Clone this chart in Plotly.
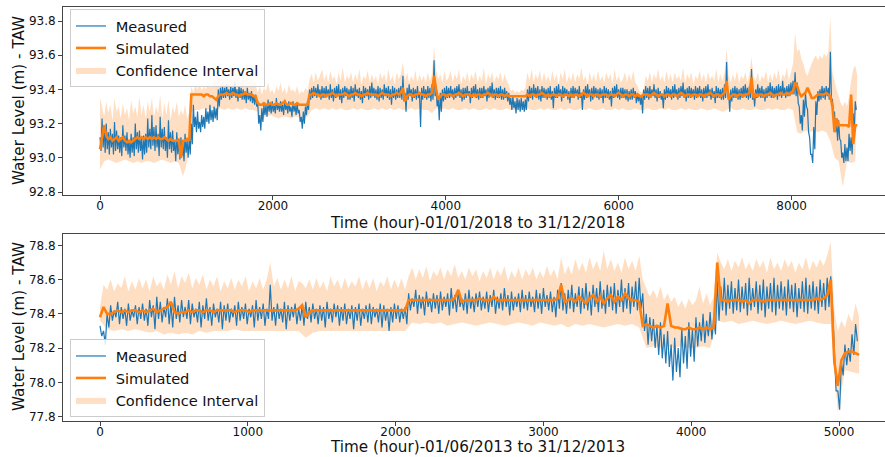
import plotly.graph_objects as go

# ---------------- 2018: measured daily maxima / minima (m TAW), one per day ----------------
measured_2018_high = [
    93.12, 93.23, 93.18, 93.20, 93.15, 93.17, 93.14, 93.21, 93.16, 93.13, 93.12, 93.19,
    93.13, 93.15, 93.10, 93.14, 93.12, 93.20, 93.15, 93.16, 93.11, 93.13, 93.14, 93.23,
    93.17, 93.25, 93.18, 93.19, 93.14, 93.24, 93.17, 93.18, 93.12, 93.22, 93.15, 93.16,
    93.10, 93.15, 93.09, 93.12, 93.08, 93.14, 93.10, 93.12, 93.20, 93.31, 93.24, 93.27,
    93.21, 93.25, 93.24, 93.29, 93.27, 93.31, 93.28, 93.30, 93.29, 93.40, 93.41, 93.42,
    93.41, 93.43, 93.40, 93.42, 93.41, 93.44, 93.40, 93.42, 93.41, 93.40, 93.39, 93.41,
    93.38, 93.39, 93.37, 93.37, 93.33, 93.25, 93.29, 93.31, 93.31, 93.34, 93.32, 93.33,
    93.31, 93.35, 93.32, 93.33, 93.31, 93.34, 93.32, 93.33, 93.30, 93.33, 93.31, 93.32,
    93.28, 93.24, 93.27, 93.30, 93.33, 93.40, 93.41, 93.42, 93.41, 93.43, 93.40, 93.42,
    93.41, 93.42, 93.40, 93.43, 93.40, 93.41, 93.42, 93.43, 93.40, 93.41, 93.42, 93.41,
    93.40, 93.42, 93.41, 93.43, 93.40, 93.41, 93.39, 93.42, 93.41, 93.40, 93.42, 93.44,
    93.41, 93.40, 93.42, 93.41, 93.40, 93.43, 93.41, 93.42, 93.40, 93.42, 93.41, 93.40,
    93.41, 93.42, 93.48, 93.38, 93.41, 93.43, 93.40, 93.41, 93.40, 93.42, 93.37, 93.41,
    93.42, 93.40, 93.42, 93.41, 93.43, 93.57, 93.40, 93.35, 93.38, 93.40, 93.41, 93.42,
    93.41, 93.42, 93.40, 93.41, 93.42, 93.43, 93.40, 93.41, 93.41, 93.42, 93.39, 93.41,
    93.42, 93.43, 93.40, 93.41, 93.41, 93.42, 93.40, 93.41, 93.42, 93.44, 93.40, 93.41,
    93.41, 93.42, 93.40, 93.41, 93.39, 93.38, 93.35, 93.36, 93.33, 93.35, 93.34, 93.35,
    93.33, 93.34, 93.40, 93.42, 93.41, 93.43, 93.41, 93.42, 93.40, 93.42, 93.41, 93.40,
    93.41, 93.42, 93.39, 93.41, 93.42, 93.43, 93.40, 93.42, 93.41, 93.40, 93.39, 93.41,
    93.42, 93.41, 93.40, 93.42, 93.38, 93.40, 93.42, 93.43, 93.40, 93.41, 93.42, 93.41,
    93.40, 93.41, 93.40, 93.42, 93.41, 93.40, 93.39, 93.41, 93.42, 93.43, 93.40, 93.41,
    93.41, 93.40, 93.40, 93.39, 93.40, 93.41, 93.39, 93.38, 93.37, 93.36, 93.40, 93.42,
    93.41, 93.42, 93.40, 93.43, 93.40, 93.41, 93.39, 93.37, 93.40, 93.42, 93.41, 93.40,
    93.42, 93.43, 93.40, 93.41, 93.42, 93.44, 93.40, 93.41, 93.42, 93.41, 93.40, 93.42,
    93.41, 93.42, 93.40, 93.41, 93.42, 93.43, 93.40, 93.41, 93.39, 93.42, 93.41, 93.40,
    93.41, 93.43, 93.56, 93.38, 93.40, 93.41, 93.42, 93.41, 93.40, 93.41, 93.42, 93.43,
    93.41, 93.42, 93.52, 93.38, 93.40, 93.43, 93.41, 93.42, 93.40, 93.41, 93.42, 93.44,
    93.42, 93.41, 93.42, 93.43, 93.42, 93.45, 93.41, 93.42, 93.43, 93.44, 93.45, 93.50,
    93.44, 93.30, 93.25, 93.34, 93.38, 93.28, 93.12, 93.02, 93.18, 93.33, 93.39, 93.40,
    93.42, 93.41, 93.42, 93.41, 93.62, 93.34, 93.27, 93.20, 93.22, 93.10, 93.03, 93.08,
    93.06, 93.14, 93.12, 93.26, 93.33,
]

measured_2018_low = [
    93.04, 93.06, 93.03, 93.05, 93.02, 93.06, 93.02, 93.04, 93.05, 93.03, 93.01, 93.06,
    93.04, 93.02, 93.00, 93.03, 93.01, 93.05, 93.03, 93.04, 92.99, 93.02, 93.03, 93.06,
    93.05, 93.07, 93.04, 93.06, 93.01, 93.06, 93.05, 93.04, 93.00, 93.05, 93.03, 93.04,
    92.98, 93.02, 92.99, 93.01, 92.98, 93.03, 93.00, 93.02, 93.08, 93.18, 93.15, 93.17,
    93.15, 93.18, 93.17, 93.21, 93.20, 93.22, 93.21, 93.23, 93.22, 93.30, 93.34, 93.35,
    93.35, 93.36, 93.34, 93.35, 93.36, 93.35, 93.33, 93.35, 93.34, 93.34, 93.32, 93.34,
    93.33, 93.32, 93.31, 93.30, 93.20, 93.16, 93.21, 93.25, 93.24, 93.27, 93.26, 93.27,
    93.26, 93.28, 93.27, 93.27, 93.25, 93.28, 93.26, 93.27, 93.24, 93.27, 93.25, 93.26,
    93.21, 93.17, 93.20, 93.25, 93.28, 93.34, 93.35, 93.36, 93.35, 93.36, 93.34, 93.35,
    93.35, 93.36, 93.34, 93.35, 93.33, 93.35, 93.36, 93.34, 93.32, 93.35, 93.36, 93.34,
    93.34, 93.35, 93.33, 93.36, 93.35, 93.34, 93.32, 93.35, 93.36, 93.34, 93.35, 93.36,
    93.35, 93.34, 93.33, 93.35, 93.34, 93.36, 93.35, 93.34, 93.31, 93.35, 93.34, 93.35,
    93.35, 93.34, 93.33, 93.27, 93.34, 93.36, 93.33, 93.35, 93.34, 93.35, 93.18, 93.34,
    93.35, 93.34, 93.35, 93.33, 93.34, 93.36, 93.30, 93.22, 93.27, 93.33, 93.34, 93.35,
    93.35, 93.36, 93.34, 93.35, 93.36, 93.35, 93.33, 93.34, 93.35, 93.36, 93.32, 93.35,
    93.36, 93.35, 93.34, 93.35, 93.35, 93.36, 93.33, 93.35, 93.36, 93.35, 93.34, 93.35,
    93.35, 93.34, 93.34, 93.35, 93.33, 93.31, 93.28, 93.29, 93.26, 93.28, 93.27, 93.28,
    93.27, 93.28, 93.33, 93.35, 93.34, 93.36, 93.35, 93.34, 93.33, 93.35, 93.35, 93.34,
    93.35, 93.34, 93.29, 93.35, 93.35, 93.36, 93.33, 93.35, 93.36, 93.34, 93.32, 93.35,
    93.35, 93.36, 93.34, 93.35, 93.28, 93.34, 93.35, 93.36, 93.33, 93.34, 93.36, 93.35,
    93.34, 93.35, 93.32, 93.35, 93.35, 93.34, 93.30, 93.35, 93.36, 93.35, 93.34, 93.35,
    93.35, 93.34, 93.33, 93.34, 93.34, 93.35, 93.32, 93.33, 93.31, 93.26, 93.34, 93.35,
    93.34, 93.35, 93.36, 93.35, 93.33, 93.35, 93.34, 93.29, 93.34, 93.35, 93.36, 93.34,
    93.35, 93.36, 93.34, 93.35, 93.36, 93.35, 93.33, 93.35, 93.35, 93.36, 93.34, 93.35,
    93.36, 93.35, 93.33, 93.35, 93.35, 93.36, 93.34, 93.35, 93.32, 93.35, 93.35, 93.34,
    93.34, 93.35, 93.36, 93.27, 93.33, 93.35, 93.35, 93.34, 93.34, 93.35, 93.36, 93.35,
    93.34, 93.35, 93.34, 93.30, 93.35, 93.36, 93.35, 93.35, 93.33, 93.35, 93.36, 93.35,
    93.35, 93.36, 93.34, 93.36, 93.35, 93.37, 93.35, 93.36, 93.36, 93.37, 93.37, 93.36,
    93.32, 93.20, 93.16, 93.24, 93.30, 93.15, 93.02, 92.97, 93.05, 93.25, 93.33, 93.34,
    93.35, 93.34, 93.36, 93.34, 93.35, 93.25, 93.15, 93.10, 93.11, 93.00, 92.97, 92.98,
    92.98, 93.04, 93.02, 93.15, 93.28,
]

# 2018 model output and confidence band, every 24 h (band floor every 48 h)
simulated_2018 = [
    93.05, 93.12, 93.19, 93.13, 93.11, 93.12, 93.10, 93.11, 93.12, 93.10, 93.11, 93.12,
    93.10, 93.09, 93.10, 93.09, 93.10, 93.11, 93.12, 93.11, 93.12, 93.11, 93.12, 93.11,
    93.12, 93.11, 93.12, 93.11, 93.12, 93.11, 93.11, 93.12, 93.11, 93.10, 93.11, 93.10,
    93.10, 93.10, 93.11, 93.00, 93.10, 93.10, 93.11, 93.10, 93.37, 93.37, 93.37, 93.37,
    93.37, 93.37, 93.36, 93.37, 93.37, 93.36, 93.36, 93.35, 93.34, 93.36, 93.37, 93.37,
    93.37, 93.38, 93.37, 93.37, 93.38, 93.37, 93.37, 93.36, 93.37, 93.37, 93.38, 93.37,
    93.37, 93.37, 93.36, 93.36, 93.32, 93.31, 93.31, 93.32, 93.31, 93.31, 93.32, 93.31,
    93.31, 93.32, 93.31, 93.31, 93.32, 93.33, 93.31, 93.31, 93.32, 93.31, 93.31, 93.32,
    93.31, 93.31, 93.31, 93.31, 93.31, 93.37, 93.37, 93.38, 93.37, 93.37, 93.36, 93.37,
    93.37, 93.36, 93.37, 93.37, 93.38, 93.37, 93.36, 93.37, 93.37, 93.37, 93.38, 93.37,
    93.36, 93.37, 93.37, 93.38, 93.37, 93.37, 93.36, 93.37, 93.37, 93.38, 93.37, 93.37,
    93.37, 93.37, 93.36, 93.37, 93.38, 93.37, 93.37, 93.37, 93.36, 93.37, 93.37, 93.38,
    93.37, 93.38, 93.41, 93.33, 93.36, 93.37, 93.37, 93.36, 93.37, 93.37, 93.38, 93.37,
    93.37, 93.36, 93.37, 93.37, 93.38, 93.48, 93.40, 93.34, 93.36, 93.37, 93.37, 93.36,
    93.37, 93.37, 93.36, 93.37, 93.37, 93.38, 93.37, 93.36, 93.37, 93.37, 93.37, 93.36,
    93.37, 93.36, 93.37, 93.37, 93.36, 93.37, 93.37, 93.38, 93.37, 93.36, 93.37, 93.37,
    93.36, 93.37, 93.37, 93.36, 93.37, 93.36, 93.36, 93.36, 93.36, 93.36, 93.36, 93.36,
    93.36, 93.36, 93.37, 93.36, 93.37, 93.37, 93.36, 93.37, 93.37, 93.38, 93.37, 93.36,
    93.37, 93.36, 93.37, 93.37, 93.36, 93.37, 93.37, 93.36, 93.37, 93.37, 93.36, 93.37,
    93.36, 93.37, 93.37, 93.36, 93.37, 93.38, 93.37, 93.36, 93.37, 93.37, 93.36, 93.37,
    93.37, 93.36, 93.37, 93.37, 93.37, 93.36, 93.37, 93.37, 93.36, 93.37, 93.38, 93.37,
    93.36, 93.37, 93.37, 93.36, 93.37, 93.37, 93.36, 93.37, 93.36, 93.36, 93.37, 93.37,
    93.37, 93.36, 93.37, 93.38, 93.37, 93.36, 93.37, 93.37, 93.36, 93.37, 93.37, 93.36,
    93.37, 93.37, 93.36, 93.37, 93.38, 93.37, 93.36, 93.37, 93.37, 93.36, 93.37, 93.37,
    93.36, 93.37, 93.37, 93.36, 93.37, 93.37, 93.38, 93.37, 93.36, 93.37, 93.37, 93.36,
    93.37, 93.38, 93.45, 93.34, 93.36, 93.37, 93.37, 93.36, 93.37, 93.37, 93.36, 93.37,
    93.37, 93.38, 93.47, 93.35, 93.37, 93.36, 93.37, 93.37, 93.36, 93.37, 93.37, 93.38,
    93.37, 93.36, 93.37, 93.37, 93.38, 93.37, 93.37, 93.38, 93.37, 93.38, 93.39, 93.44,
    93.42, 93.38, 93.36, 93.37, 93.38, 93.41, 93.38, 93.35, 93.35, 93.36, 93.37, 93.37,
    93.37, 93.37, 93.38, 93.37, 93.36, 93.30, 93.15, 93.23, 93.19, 93.19, 93.19, 93.19,
    93.19, 93.18, 93.37, 93.08, 93.19, 93.19,
]

ci_upper_2018 = [
    93.35, 93.30, 93.24, 93.33, 93.26, 93.31, 93.22, 93.35, 93.27, 93.30, 93.23, 93.32,
    93.25, 93.29, 93.22, 93.34, 93.26, 93.30, 93.24, 93.36, 93.25, 93.31, 93.23, 93.33,
    93.27, 93.35, 93.24, 93.30, 93.26, 93.37, 93.23, 93.32, 93.25, 93.34, 93.22, 93.30,
    93.26, 93.33, 93.24, 93.28, 93.25, 93.31, 93.23, 93.27, 93.42, 93.38, 93.43, 93.40,
    93.44, 93.39, 93.42, 93.40, 93.45, 93.41, 93.43, 93.47, 93.44, 93.50, 93.45, 93.48,
    93.46, 93.52, 93.44, 93.49, 93.45, 93.53, 93.46, 93.48, 93.44, 93.51, 93.45, 93.49,
    93.44, 93.48, 93.45, 93.43, 93.38, 93.42, 93.37, 93.41, 93.39, 93.44, 93.38, 93.40,
    93.37, 93.42, 93.39, 93.44, 93.38, 93.41, 93.37, 93.43, 93.39, 93.40, 93.38, 93.42,
    93.37, 93.39, 93.38, 93.41, 93.39, 93.46, 93.49, 93.44, 93.50, 93.45, 93.48, 93.52,
    93.45, 93.49, 93.44, 93.51, 93.46, 93.48, 93.43, 93.50, 93.45, 93.53, 93.44, 93.48,
    93.46, 93.50, 93.44, 93.49, 93.45, 93.52, 93.43, 93.48, 93.46, 93.51, 93.44, 93.49,
    93.45, 93.48, 93.43, 93.50, 93.46, 93.49, 93.44, 93.52, 93.45, 93.48, 93.43, 93.50,
    93.46, 93.49, 93.56, 93.45, 93.50, 93.44, 93.48, 93.45, 93.51, 93.44, 93.49, 93.45,
    93.48, 93.44, 93.50, 93.45, 93.49, 93.65, 93.52, 93.46, 93.49, 93.44, 93.51, 93.45,
    93.47, 93.51, 93.44, 93.49, 93.46, 93.52, 93.43, 93.48, 93.45, 93.50, 93.44, 93.49,
    93.46, 93.51, 93.44, 93.48, 93.45, 93.53, 93.43, 93.49, 93.46, 93.50, 93.44, 93.48,
    93.46, 93.50, 93.44, 93.49, 93.45, 93.43, 93.39, 93.40, 93.38, 93.39, 93.38, 93.40,
    93.39, 93.41, 93.50, 93.45, 93.52, 93.44, 93.49, 93.46, 93.51, 93.44, 93.50, 93.45,
    93.48, 93.44, 93.51, 93.45, 93.49, 93.43, 93.50, 93.46, 93.52, 93.44, 93.48, 93.45,
    93.50, 93.44, 93.49, 93.46, 93.53, 93.45, 93.48, 93.43, 93.50, 93.45, 93.49, 93.44,
    93.51, 93.45, 93.48, 93.44, 93.50, 93.46, 93.49, 93.43, 93.52, 93.45, 93.48, 93.44,
    93.46, 93.50, 93.44, 93.49, 93.45, 93.51, 93.44, 93.42, 93.39, 93.38, 93.40, 93.48,
    93.45, 93.50, 93.44, 93.49, 93.46, 93.52, 93.45, 93.48, 93.44, 93.51, 93.45, 93.49,
    93.44, 93.50, 93.46, 93.48, 93.45, 93.53, 93.44, 93.49, 93.46, 93.50, 93.43, 93.48,
    93.46, 93.51, 93.45, 93.49, 93.44, 93.50, 93.46, 93.48, 93.45, 93.52, 93.44, 93.49,
    93.45, 93.50, 93.64, 93.48, 93.44, 93.49, 93.45, 93.51, 93.44, 93.48, 93.46, 93.50,
    93.44, 93.49, 93.59, 93.47, 93.45, 93.50, 93.44, 93.48, 93.46, 93.51, 93.44, 93.49,
    93.45, 93.50, 93.46, 93.52, 93.44, 93.49, 93.47, 93.53, 93.45, 93.50, 93.55, 93.73,
    93.62, 93.64, 93.58, 93.55, 93.50, 93.48, 93.52, 93.55, 93.58, 93.60, 93.57, 93.60,
    93.58, 93.61, 93.59, 93.62, 93.82, 93.50, 93.45, 93.40, 93.36, 93.32, 93.30, 93.33,
    93.30, 93.36, 93.45, 93.52, 93.54, 93.48,
]

ci_lower_2018 = [
    92.93, 92.98, 92.99, 92.98, 92.97, 92.98, 92.99, 92.98, 92.97, 92.98, 92.97, 92.98,
    92.98, 92.97, 92.98, 92.99, 92.98, 92.97, 92.98, 92.97, 92.89, 92.98, 93.27, 93.28,
    93.28, 93.29, 93.28, 93.29, 93.28, 93.29, 93.28, 93.29, 93.28, 93.29, 93.28, 93.29,
    93.28, 93.28, 93.27, 93.23, 93.24, 93.25, 93.24, 93.23, 93.24, 93.24, 93.23, 93.24,
    93.24, 93.23, 93.24, 93.28, 93.29, 93.28, 93.29, 93.28, 93.29, 93.28, 93.29, 93.28,
    93.28, 93.29, 93.28, 93.29, 93.28, 93.28, 93.29, 93.28, 93.29, 93.28, 93.29, 93.28,
    93.29, 93.28, 93.28, 93.29, 93.28, 93.29, 93.28, 93.28, 93.26, 93.29, 93.28, 93.29,
    93.28, 93.29, 93.28, 93.28, 93.29, 93.28, 93.29, 93.28, 93.28, 93.29, 93.28, 93.29,
    93.28, 93.28, 93.29, 93.28, 93.28, 93.29, 93.28, 93.29, 93.28, 93.28, 93.29, 93.28,
    93.29, 93.28, 93.28, 93.29, 93.28, 93.29, 93.28, 93.28, 93.29, 93.28, 93.29, 93.28,
    93.28, 93.29, 93.28, 93.28, 93.29, 93.28, 93.29, 93.28, 93.28, 93.29, 93.28, 93.28,
    93.29, 93.28, 93.28, 93.29, 93.28, 93.29, 93.28, 93.28, 93.29, 93.28, 93.29, 93.28,
    93.28, 93.29, 93.28, 93.28, 93.29, 93.28, 93.27, 93.28, 93.29, 93.28, 93.28, 93.29,
    93.28, 93.28, 93.29, 93.28, 93.28, 93.29, 93.28, 93.29, 93.28, 93.28, 93.29, 93.28,
    93.15, 93.14, 93.16, 93.15, 93.16, 93.15, 93.16, 93.15, 93.10, 93.00, 92.98, 92.83,
    92.98, 92.97, 92.98,
]

# ---------------- 2013 (from 1 June): measured daily maxima / minima ----------------
measured_2013_high = [
    78.33, 78.30, 78.40, 78.45, 78.42, 78.47, 78.44, 78.43, 78.46, 78.42, 78.45, 78.44,
    78.46, 78.43, 78.48, 78.45, 78.50, 78.47, 78.44, 78.49, 78.46, 78.50, 78.45, 78.48,
    78.44, 78.48, 78.46, 78.43, 78.47, 78.45, 78.49, 78.44, 78.46, 78.43, 78.47, 78.45,
    78.46, 78.43, 78.45, 78.47, 78.44, 78.46, 78.43, 78.45, 78.48, 78.44, 78.46, 78.43,
    78.57, 78.44, 78.46, 78.43, 78.47, 78.45, 78.44, 78.46, 78.43, 78.45, 78.47, 78.44,
    78.46, 78.43, 78.45, 78.44, 78.47, 78.43, 78.46, 78.45, 78.44, 78.46, 78.43, 78.45,
    78.44, 78.46, 78.43, 78.45, 78.46, 78.44, 78.43, 78.46, 78.45, 78.43, 78.44, 78.46,
    78.45, 78.43, 78.44, 78.52, 78.49, 78.54, 78.51, 78.50, 78.53, 78.49, 78.52, 78.51,
    78.53, 78.50, 78.52, 78.55, 78.51, 78.53, 78.49, 78.52, 78.54, 78.50, 78.52, 78.53,
    78.50, 78.53, 78.51, 78.54, 78.50, 78.52, 78.55, 78.51, 78.53, 78.50, 78.52, 78.54,
    78.51, 78.53, 78.50, 78.54, 78.52, 78.55, 78.51, 78.53, 78.50, 78.54, 78.58, 78.52,
    78.54, 78.57, 78.52, 78.56, 78.55, 78.58, 78.53, 78.57, 78.55, 78.59, 78.54, 78.57,
    78.56, 78.58, 78.54, 78.60, 78.55, 78.58, 78.56, 78.59, 78.61, 78.52, 78.40, 78.38,
    78.37, 78.33, 78.35, 78.28, 78.30, 78.22, 78.26, 78.20, 78.32, 78.27, 78.35, 78.31,
    78.38, 78.35, 78.40, 78.36, 78.41, 78.38, 78.60, 78.56, 78.61, 78.57, 78.59, 78.55,
    78.60, 78.56, 78.58, 78.61, 78.55, 78.59, 78.57, 78.60, 78.56, 78.58, 78.61, 78.57,
    78.59, 78.56, 78.60, 78.57, 78.58, 78.55, 78.59, 78.61, 78.57, 78.59, 78.56, 78.60,
    78.58, 78.61, 78.62, 78.20, 77.95, 78.12, 78.22, 78.20, 78.28, 78.34,
]

measured_2013_low = [
    78.27, 78.22, 78.32, 78.36, 78.38, 78.34, 78.37, 78.33, 78.36, 78.38, 78.34, 78.37,
    78.36, 78.33, 78.38, 78.31, 78.37, 78.35, 78.38, 78.34, 78.32, 78.37, 78.35, 78.38,
    78.37, 78.34, 78.38, 78.35, 78.32, 78.37, 78.36, 78.33, 78.38, 78.35, 78.31, 78.36,
    78.35, 78.38, 78.33, 78.36, 78.37, 78.34, 78.38, 78.32, 78.36, 78.37, 78.33, 78.37,
    78.36, 78.33, 78.37, 78.35, 78.31, 78.36, 78.38, 78.34, 78.36, 78.33, 78.37, 78.35,
    78.37, 78.34, 78.36, 78.32, 78.37, 78.35, 78.38, 78.33, 78.36, 78.34, 78.37, 78.31,
    78.36, 78.33, 78.37, 78.35, 78.34, 78.38, 78.35, 78.32, 78.36, 78.30, 78.35, 78.37,
    78.35, 78.37, 78.34, 78.42, 78.44, 78.40, 78.43, 78.39, 78.44, 78.41, 78.43, 78.40,
    78.42, 78.44, 78.39, 78.43, 78.41, 78.44, 78.42, 78.40, 78.43, 78.41, 78.44, 78.42,
    78.43, 78.41, 78.44, 78.40, 78.43, 78.42, 78.44, 78.39, 78.42, 78.44, 78.41, 78.43,
    78.42, 78.44, 78.41, 78.43, 78.40, 78.44, 78.42, 78.41, 78.38, 78.43, 78.42, 78.40,
    78.43, 78.41, 78.44, 78.40, 78.43, 78.42, 78.39, 78.44, 78.41, 78.43, 78.40, 78.44,
    78.42, 78.40, 78.44, 78.41, 78.43, 78.40, 78.44, 78.42, 78.43, 78.30, 78.22, 78.24,
    78.20, 78.16, 78.14, 78.11, 78.09, 78.01, 78.06, 78.03, 78.11, 78.08, 78.15, 78.12,
    78.21, 78.24, 78.23, 78.27, 78.25, 78.28, 78.36, 78.42, 78.39, 78.43, 78.40, 78.42,
    78.41, 78.43, 78.39, 78.42, 78.44, 78.40, 78.42, 78.38, 78.43, 78.41, 78.39, 78.43,
    78.42, 78.39, 78.43, 78.41, 78.38, 78.43, 78.41, 78.40, 78.43, 78.42, 78.40, 78.44,
    78.42, 78.44, 78.44, 77.95, 77.84, 78.04, 78.10, 78.12, 78.16, 78.24,
]

simulated_2013 = [
    78.38, 78.44, 78.40, 78.40, 78.41, 78.42, 78.41, 78.42, 78.41, 78.42, 78.42, 78.41,
    78.42, 78.41, 78.42, 78.43, 78.41, 78.42, 78.43, 78.44, 78.47, 78.41, 78.40, 78.41,
    78.41, 78.42, 78.41, 78.42, 78.42, 78.41, 78.42, 78.42, 78.41, 78.42, 78.42, 78.42,
    78.42, 78.42, 78.41, 78.42, 78.42, 78.42, 78.41, 78.42, 78.42, 78.42, 78.42, 78.42,
    78.42, 78.42, 78.42, 78.42, 78.42, 78.42, 78.42, 78.42, 78.43, 78.45, 78.38, 78.41,
    78.42, 78.42, 78.42, 78.42, 78.42, 78.42, 78.42, 78.42, 78.42, 78.42, 78.42, 78.42,
    78.42, 78.42, 78.42, 78.42, 78.42, 78.42, 78.42, 78.42, 78.42, 78.42, 78.42, 78.42,
    78.42, 78.42, 78.42, 78.48, 78.48, 78.48, 78.48, 78.48, 78.48, 78.48, 78.48, 78.48,
    78.48, 78.48, 78.48, 78.48, 78.49, 78.54, 78.47, 78.48, 78.48, 78.48, 78.48, 78.49,
    78.48, 78.48, 78.48, 78.50, 78.48, 78.48, 78.48, 78.48, 78.48, 78.48, 78.48, 78.48,
    78.48, 78.48, 78.48, 78.48, 78.48, 78.48, 78.48, 78.48, 78.48, 78.49, 78.57, 78.47,
    78.48, 78.49, 78.47, 78.50, 78.48, 78.46, 78.49, 78.51, 78.47, 78.50, 78.46, 78.49,
    78.51, 78.47, 78.50, 78.48, 78.52, 78.49, 78.48, 78.48, 78.47, 78.33, 78.34, 78.33,
    78.32, 78.33, 78.32, 78.33, 78.46, 78.33, 78.32, 78.32, 78.31, 78.31, 78.32, 78.31,
    78.31, 78.32, 78.31, 78.32, 78.31, 78.32, 78.70, 78.48, 78.48, 78.47, 78.48, 78.48,
    78.48, 78.47, 78.48, 78.46, 78.48, 78.48, 78.48, 78.47, 78.48, 78.48, 78.48, 78.48,
    78.48, 78.48, 78.48, 78.48, 78.48, 78.48, 78.48, 78.48, 78.48, 78.48, 78.49, 78.48,
    78.49, 78.51, 78.60, 78.12, 77.98, 78.13, 78.17, 78.18, 78.18, 78.17, 78.16,
]

ci_upper_2013 = [
    78.44, 78.57, 78.54, 78.60, 78.53, 78.58, 78.55, 78.62, 78.53, 78.59, 78.54, 78.61,
    78.55, 78.60, 78.53, 78.62, 78.56, 78.59, 78.54, 78.63, 78.57, 78.65, 78.55, 78.62,
    78.58, 78.64, 78.55, 78.61, 78.57, 78.63, 78.54, 78.60, 78.56, 78.62, 78.53, 78.59,
    78.55, 78.61, 78.54, 78.60, 78.56, 78.62, 78.53, 78.59, 78.55, 78.61, 78.54, 78.60,
    78.70, 78.56, 78.61, 78.54, 78.60, 78.55, 78.62, 78.53, 78.59, 78.58, 78.55, 78.60,
    78.54, 78.61, 78.55, 78.59, 78.53, 78.62, 78.56, 78.60, 78.54, 78.61, 78.55, 78.59,
    78.56, 78.62, 78.54, 78.60, 78.55, 78.61, 78.53, 78.59, 78.56, 78.62, 78.54, 78.60,
    78.55, 78.61, 78.54, 78.62, 78.67, 78.60, 78.66, 78.61, 78.68, 78.59, 78.65, 78.62,
    78.67, 78.60, 78.66, 78.62, 78.69, 78.61, 78.65, 78.60, 78.67, 78.62, 78.66, 78.59,
    78.65, 78.61, 78.67, 78.60, 78.66, 78.62, 78.68, 78.59, 78.65, 78.61, 78.67, 78.60,
    78.66, 78.62, 78.67, 78.60, 78.65, 78.61, 78.68, 78.62, 78.66, 78.60, 78.73, 78.63,
    78.68, 78.63, 78.72, 78.65, 78.70, 78.64, 78.73, 78.66, 78.71, 78.65, 78.77, 78.66,
    78.72, 78.65, 78.70, 78.64, 78.73, 78.66, 78.71, 78.65, 78.74, 78.60, 78.55, 78.50,
    78.54, 78.49, 78.56, 78.48, 78.52, 78.47, 78.50, 78.44, 78.48, 78.43, 78.49, 78.45,
    78.48, 78.56, 78.46, 78.52, 78.45, 78.50, 78.76, 78.70, 78.66, 78.72, 78.65, 78.71,
    78.67, 78.73, 78.66, 78.70, 78.65, 78.72, 78.67, 78.71, 78.64, 78.73, 78.66, 78.70,
    78.65, 78.72, 78.67, 78.71, 78.64, 78.70, 78.66, 78.73, 78.65, 78.71, 78.67, 78.72,
    78.68, 78.74, 78.82, 78.42, 78.30, 78.36, 78.32, 78.40, 78.35, 78.46, 78.38,
]

ci_lower_2013 = [
    78.36, 78.31, 78.30, 78.31, 78.30, 78.31, 78.30, 78.29, 78.30, 78.28, 78.29, 78.28,
    78.29, 78.28, 78.30, 78.29, 78.30, 78.30, 78.30, 78.31, 78.30, 78.30, 78.30, 78.30,
    78.30, 78.30, 78.30, 78.30, 78.30, 78.26, 78.29, 78.30, 78.30, 78.30, 78.30, 78.30,
    78.30, 78.30, 78.30, 78.30, 78.30, 78.30, 78.30, 78.30, 78.35, 78.34, 78.35, 78.34,
    78.35, 78.33, 78.34, 78.35, 78.34, 78.33, 78.34, 78.35, 78.34, 78.33, 78.34, 78.35,
    78.34, 78.33, 78.35, 78.34, 78.33, 78.34, 78.32, 78.34, 78.33, 78.34, 78.33, 78.32,
    78.33, 78.34, 78.33, 78.34, 78.32, 78.20, 78.21, 78.20, 78.21, 78.20, 78.21, 78.20,
    78.20, 78.21, 78.20, 78.36, 78.35, 78.36, 78.34, 78.35, 78.36, 78.35, 78.34, 78.35,
    78.36, 78.35, 78.34, 78.35, 78.36, 78.35, 78.34, 78.34, 77.82, 78.07, 78.06, 78.05,
]

STEP_FINE = 24     # hours between stored model / band-top values
STEP_COARSE = 48   # hours between stored band-floor values


def hours(values, step):
    return [step * i for i in range(len(values))]


def daily_trace(highs, lows):
    """Each day's max at its first hour, its min at midday."""
    xs, ys = [], []
    for d, (hi, lo) in enumerate(zip(highs, lows)):
        xs += [24 * d, 24 * d + 12]
        ys += [hi, lo]
    return xs, ys


BLUE = "#1f77b4"
ORANGE = "#ff7f0e"
CI_FILL = "rgba(255,127,14,0.25)"
FONT = "DejaVu Sans"
NB = "\u00a0"

fig = go.Figure()

panels = [
    ("x", "y", "legend", measured_2018_high, measured_2018_low,
     simulated_2018, ci_upper_2018, ci_lower_2018),
    ("x2", "y2", "legend2", measured_2013_high, measured_2013_low,
     simulated_2013, ci_upper_2013, ci_lower_2013),
]

for xa, ya, leg, m_hi, m_lo, sim, up, lo in panels:
    fig.add_trace(go.Scatter(
        x=hours(lo, STEP_COARSE), y=lo, xaxis=xa, yaxis=ya, mode="lines",
        line=dict(width=0, color=ORANGE, simplify=False), showlegend=False,
        hoverinfo="skip", legend=leg,
    ))
    fig.add_trace(go.Scatter(
        x=hours(up, STEP_FINE), y=up, xaxis=xa, yaxis=ya, mode="lines",
        line=dict(width=0, color=ORANGE, simplify=False), fill="tonexty",
        fillcolor=CI_FILL, name=NB + "Confidence Interval", legend=leg, legendrank=3,
    ))
    mx, my = daily_trace(m_hi, m_lo)
    fig.add_trace(go.Scatter(
        x=mx, y=my, xaxis=xa, yaxis=ya, mode="lines",
        line=dict(width=1.2, color=BLUE, simplify=False),
        name=NB + "Measured", legend=leg, legendrank=1,
    ))
    fig.add_trace(go.Scatter(
        x=hours(sim, STEP_FINE), y=sim, xaxis=xa, yaxis=ya, mode="lines",
        line=dict(width=2.6, color=ORANGE, simplify=False),
        name=NB + "Simulated", legend=leg, legendrank=2,
    ))

axis_common = dict(
    showgrid=False, zeroline=False, showline=True, linecolor="#444", linewidth=1,
    ticks="outside", ticklen=4, tickwidth=1, tickcolor="#444",
    tickfont=dict(family=FONT, size=12, color="#111"),
)

legend_common = dict(
    bgcolor="rgba(255,255,255,0.85)", bordercolor="#cccccc", borderwidth=1,
    font=dict(family=FONT, size=14.6, color="#111"),
    xanchor="left", x=0.0085, traceorder="normal", tracegroupgap=0,
)

fig.update_layout(
    width=885, height=457,
    margin=dict(l=63, r=0, t=7, b=36),
    paper_bgcolor="white", plot_bgcolor="white",
    font=dict(family=FONT),
    showlegend=True,
    xaxis=dict(domain=[0, 1], anchor="y", range=[-428, 9080], mirror=True,
               tickvals=[0, 2000, 4000, 6000, 8000], ticklabelstandoff=-4,
               **axis_common),
    yaxis=dict(domain=[0.5459, 1.0], anchor="x", range=[92.7825, 93.882],
               tickvals=[92.8, 93.0, 93.2, 93.4, 93.6, 93.8], tickformat=".1f",
               **axis_common),
    xaxis2=dict(domain=[0, 1], anchor="y2", range=[-250.3, 5311], mirror=True,
                tickvals=[0, 1000, 2000, 3000, 4000, 5000], ticklabelstandoff=-4,
                **axis_common),
    yaxis2=dict(domain=[0, 0.4524], anchor="x2", range=[77.774, 78.868],
                tickvals=[77.8, 78.0, 78.2, 78.4, 78.6, 78.8], tickformat=".1f",
                **axis_common),
    legend=dict(yanchor="top", y=0.9952, **legend_common),
    legend2=dict(yanchor="bottom", y=0.0097, **legend_common),
)

label_font = dict(family=FONT, size=15.2, color="#111")
for text, yc in (("Time (hour)-01/01/2018 to 31/12/2018", 0.4783),
                 ("Time (hour)-01/06/2013 to 31/12/2013", -0.0640)):
    fig.add_annotation(text=text, xref="paper", yref="paper", x=0.5043, y=yc,
                       showarrow=False, xanchor="center", yanchor="middle",
                       font=label_font)
for yc in (0.773, 0.227):
    fig.add_annotation(text="Water Level (m) - TAW", xref="paper", yref="paper",
                       x=-0.0535, y=yc, textangle=-90, showarrow=False,
                       xanchor="center", yanchor="middle", font=label_font)

fig.write_html("out.html")
